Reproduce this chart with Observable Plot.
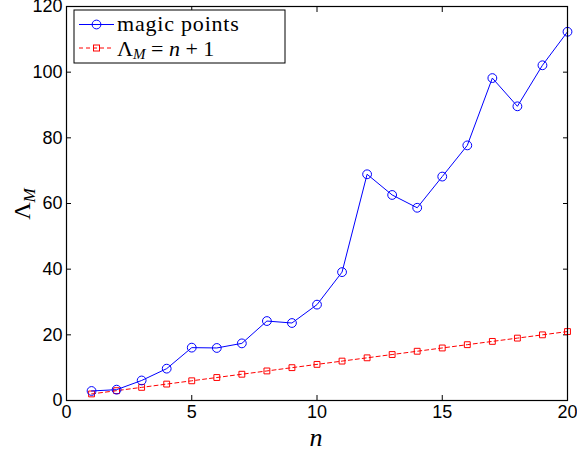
<!DOCTYPE html>
<html>
<head>
<meta charset="utf-8">
<script src="https://cdn.jsdelivr.net/npm/d3@7"></script>
<script src="https://cdn.jsdelivr.net/npm/@observablehq/plot@0.6"></script>
<style>
  html, body { margin: 0; padding: 0; background: #fff; }
  #chart svg { display: block; }
</style>
</head>
<body>
<div id="chart"></div>
<script>
const n = [1,2,3,4,5,6,7,8,9,10,11,12,13,14,15,16,17,18,19,20];
const magic = [2.9,3.3,6.1,9.7,16.1,16.0,17.4,24.2,23.6,29.2,39.1,68.9,62.6,58.7,68.2,77.7,98.2,89.6,102.1,112.3];
const linear = n.map(v => v + 1); // Λ_M = n + 1
const xTicks = [0,5,10,15,20];
const yTicks = [0,20,40,60,80,100,120];

const blue = "#0000ff";
const red = "#ff0000";

const magicData = n.map((v, i) => ({n: v, y: magic[i]}));
const linData = n.map((v, i) => ({n: v, y: linear[i]}));

const tickFont = "Liberation Sans, Arial, sans-serif";
const blank = () => "";

const plot = Plot.plot({
  width: 577,
  height: 454,
  marginLeft: 66,
  marginRight: 10,
  marginTop: 6,
  marginBottom: 54,
  style: {background: "#fff", fontFamily: tickFont},
  x: {domain: [0, 20], axis: null},
  y: {domain: [0, 120], axis: null},
  marks: [
    // tick labels
    Plot.axisX({anchor: "bottom", ticks: xTicks, tickSize: 0, tickPadding: 5, tickFormat: d => String(d), fontSize: 18, fill: "#000", label: null}),
    Plot.axisY({anchor: "left", ticks: yTicks, tickSize: 0, tickPadding: 4, tickFormat: d => String(d), fontSize: 18, fill: "#000", label: null}),
    // inside ticks
    Plot.axisX({anchor: "bottom", ticks: xTicks, tickSize: 5, dy: -5, tickFormat: blank, label: null, stroke: "#000"}),
    Plot.axisX({anchor: "top", ticks: xTicks, tickSize: 5, dy: 5, tickFormat: blank, label: null, stroke: "#000"}),
    Plot.axisY({anchor: "left", ticks: yTicks, tickSize: 5, dx: 5, tickFormat: blank, label: null, stroke: "#000"}),
    Plot.axisY({anchor: "right", ticks: yTicks, tickSize: 5, dx: -5, tickFormat: blank, label: null, stroke: "#000"}),
    // data
    Plot.line(linData, {x: "n", y: "y", stroke: red, strokeWidth: 1, strokeDasharray: "4,3"}),
    Plot.dot(linData, {x: "n", y: "y", symbol: "square", r: 3.3, stroke: red, strokeWidth: 1, fill: "none"}),
    Plot.line(magicData, {x: "n", y: "y", stroke: blue, strokeWidth: 1}),
    Plot.dot(magicData, {x: "n", y: "y", symbol: "circle", r: 4.4, stroke: blue, strokeWidth: 1, fill: "none"}),
    Plot.frame({stroke: "#000", strokeWidth: 1.2})
  ]
});

document.getElementById("chart").appendChild(plot);

// Axis labels and legend (MATLAB/LaTeX style)
const svg = d3.select(plot);
const serif = "Liberation Serif, DejaVu Serif, serif";

// x label
svg.append("text")
  .attr("x", 316).attr("y", 446)
  .attr("text-anchor", "middle")
  .attr("font-family", serif).attr("font-style", "italic").attr("font-size", 26)
  .attr("fill", "#000")
  .text("n");

// y label
const yl = svg.append("text")
  .attr("transform", "translate(30,204) rotate(-90)")
  .attr("text-anchor", "middle")
  .attr("font-family", serif).attr("font-size", 24)
  .attr("fill", "#000");
yl.append("tspan").text("Λ");
yl.append("tspan").attr("font-style", "italic").attr("font-size", 17).attr("dy", 5).text("M");

// legend
const lg = svg.append("g");
lg.append("rect").attr("x", 74).attr("y", 10).attr("width", 211).attr("height", 53)
  .attr("fill", "#fff").attr("stroke", "#000").attr("stroke-width", 1);
lg.append("line").attr("x1", 79).attr("x2", 114).attr("y1", 24.5).attr("y2", 24.5)
  .attr("stroke", blue).attr("stroke-width", 1);
lg.append("circle").attr("cx", 96.5).attr("cy", 24.5).attr("r", 4.4)
  .attr("stroke", blue).attr("fill", "none");
lg.append("line").attr("x1", 79).attr("x2", 114).attr("y1", 48).attr("y2", 48)
  .attr("stroke", red).attr("stroke-width", 1).attr("stroke-dasharray", "4,3");
lg.append("rect").attr("x", 93.5).attr("y", 45).attr("width", 6).attr("height", 6)
  .attr("stroke", red).attr("fill", "none");
lg.append("text").attr("x", 117).attr("y", 31).attr("text-anchor", "start")
  .attr("font-family", serif).attr("font-size", 22).attr("fill", "#000")
  .attr("letter-spacing", 0.8)
  .text("magic points");
const t2 = lg.append("text").attr("x", 117).attr("y", 56).attr("text-anchor", "start")
  .attr("font-family", serif).attr("font-size", 22).attr("fill", "#000");
t2.append("tspan").text("Λ");
t2.append("tspan").attr("font-style", "italic").attr("font-size", 15).attr("dy", 3).text("M");
t2.append("tspan").attr("dy", -3).text(" = ");
t2.append("tspan").attr("font-style", "italic").text("n");
t2.append("tspan").text(" + 1");
</script>
</body>
</html>
